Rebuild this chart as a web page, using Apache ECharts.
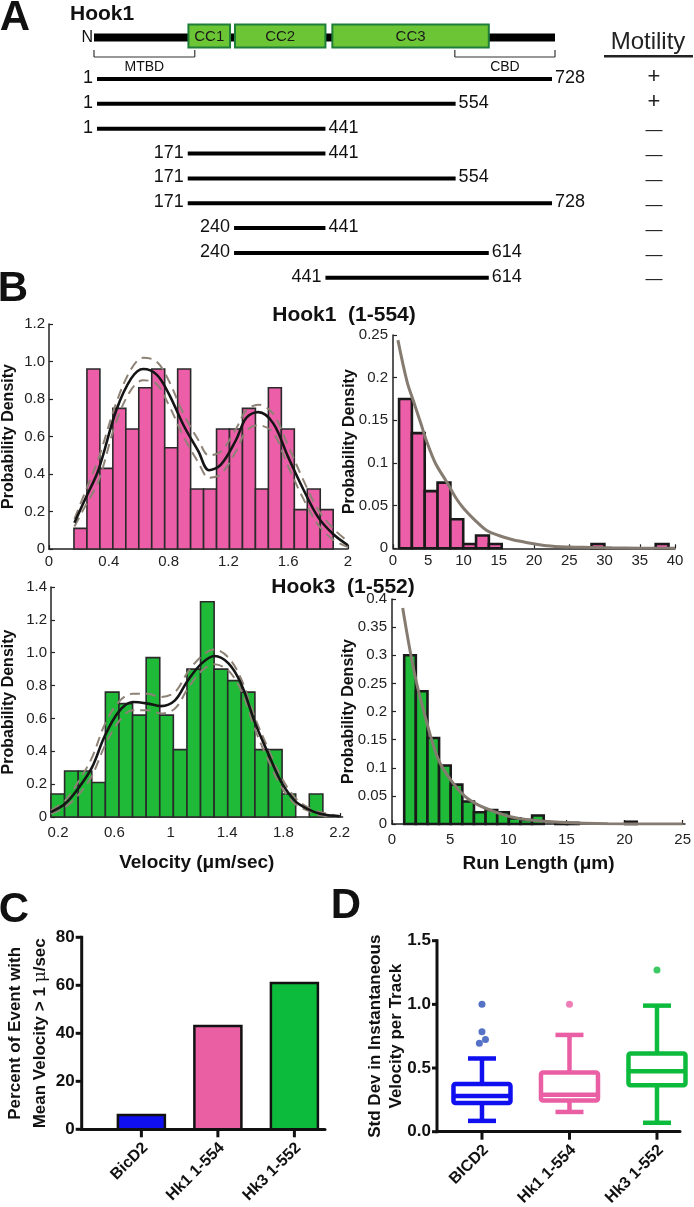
<!DOCTYPE html>
<html><head><meta charset="utf-8">
<script src="https://cdn.jsdelivr.net/npm/echarts@6/dist/echarts.min.js"></script>
<style>html,body{margin:0;padding:0;background:#fff}#c{width:694px;height:1207px}</style>
</head><body><div id="c"></div>
<script>
// ================= DATA =================
// Panel A
const proteinLength = 728;
const constructs = [[1,728],[1,554],[1,441],[171,441],[171,554],[171,728],[240,441],[240,614],[441,614]];
const motility = ['+','+','—','—','—','—','—','—','—'];
const domainNames = ['CC1','CC2','CC3'];
const domainStart = [172,242,447];
const domainEnd = [234,441,614];
const regionNames = ['MTBD','CBD'];
const regionStart = [1,558];
const regionEnd = [177,728];
// the schematic is not to scale: residue anchors and where they are drawn along the bar
const anchorResidue = [1,171,240,441,554,614,728];
const anchorDrawn   = [1,146,220,366,574,627,728];

// Panel B - Hook1 (1-554) velocity
const hk1VelBinStart = 0.167, hk1VelBinWidth = 0.0867;
const hk1VelDensity = [0.11,0.96,0.43,0.75,0.64,0.86,0.96,0.54,0.96,0.32,0.32,0.64,0.64,0.75,0.32,0.86,0.64,0.21,0.32,0.21];
const hk1VelFitX  = [0.17,0.25,0.33,0.45,0.55,0.63,0.72,0.80,0.90,1.00,1.07,1.15,1.25,1.32,1.40,1.50,1.60,1.70,1.80,1.90,2.00];
const hk1VelFit   = [0.14,0.28,0.42,0.74,0.91,0.96,0.93,0.83,0.66,0.52,0.42,0.45,0.58,0.70,0.73,0.67,0.49,0.32,0.17,0.08,0.02];
const hk1VelUpper = [0.16,0.32,0.48,0.78,0.96,1.02,1.00,0.90,0.72,0.58,0.50,0.52,0.64,0.74,0.77,0.72,0.55,0.37,0.21,0.11,0.04];
const hk1VelLower = [0.12,0.24,0.36,0.68,0.85,0.90,0.88,0.77,0.60,0.46,0.38,0.40,0.52,0.63,0.66,0.62,0.44,0.27,0.13,0.05,0.01];
// Hook1 run length
const hk1RunBinStart = 0.86, hk1RunBinWidth = 1.82;
const hk1RunDensity = [0.175,0.135,0.067,0.077,0.034,0.005,0.015,0.005,0,0,0,0,0,0,0,0.005,0,0,0,0,0.005];
const hk1RunFitX = [0.7,2,2.84,4,4.7,6,7.6,9,10,11.5,13.3,15,17,19.5,21.8,25,28,31,35,40];
const hk1RunFit  = [0.244,0.195,0.174,0.145,0.127,0.10,0.078,0.058,0.047,0.034,0.021,0.015,0.010,0.006,0.003,0.0015,0.001,0.0005,0.0002,0.0001];
// Hook3 (1-552) velocity
const hk3VelBinStart = 0.15, hk3VelBinWidth = 0.0965;
const hk3VelDensity = [0.14,0.28,0.28,0.21,0.76,0.69,0.62,0.97,0.62,0.41,0.90,1.31,0.90,0.83,0.76,0.41,0.41,0.14,0,0.14];
const hk3VelFitX  = [0.15,0.25,0.34,0.44,0.53,0.63,0.73,0.84,0.93,1.03,1.12,1.22,1.31,1.41,1.50,1.60,1.69,1.78,1.88,1.97,2.06,2.20];
const hk3VelFit   = [0.03,0.08,0.17,0.30,0.49,0.64,0.70,0.69,0.675,0.71,0.83,0.935,0.98,0.935,0.81,0.57,0.39,0.22,0.10,0.05,0.02,0.004];
const hk3VelUpper = [0.04,0.10,0.21,0.36,0.56,0.70,0.75,0.75,0.73,0.76,0.88,0.98,1.02,0.97,0.84,0.60,0.42,0.25,0.12,0.06,0.03,0.006];
const hk3VelLower = [0.02,0.06,0.13,0.25,0.43,0.58,0.65,0.65,0.63,0.66,0.78,0.89,0.93,0.89,0.77,0.53,0.35,0.19,0.08,0.04,0.01,0.002];
// Hook3 run length
const hk3RunBinStart = 1.05, hk3RunBinWidth = 1.0;
const hk3RunDensity = [0.30,0.236,0.153,0.104,0.070,0.040,0.021,0.025,0.021,0.010,0.007,0.015,0,0.002,0.002,0,0,0,0,0.004];
const hk3RunFitX = [0.92,1.93,2.93,4.0,5.17,6.3,7.4,8.8,10.2,11.9,14.4,18.6,25];
const hk3RunFit  = [0.384,0.268,0.185,0.114,0.075,0.0485,0.034,0.022,0.013,0.007,0.003,0.0005,0];

// Panel C (category positions 1..3)
const cCategories = ['BicD2','Hk1 1-554','Hk3 1-552'];
const cPercent = [6,43,61];
const cTicks = [0,20,40,60,80];
// Panel D  [min, Q1, median, Q3, max]
const dCategories = ['BICD2','Hk1 1-554','Hk3 1-552'];
const dBox = [[0.085,0.225,0.28,0.375,0.575],[0.155,0.245,0.29,0.465,0.76],[0.07,0.365,0.475,0.615,0.99]];
// outliers: [category position (1..3, with small jitter), value]
const dOutliers = [[0.97,0.695],[1.04,0.725],[1,0.785],[1,1.0],[2,1.0],[3,1.27]];
const dOutlierGroup = [0,0,0,0,1,2];
const dTicks = [0,0.5,1,1.5];

// ================= STYLE / LAYOUT =================
const FONT = 'Liberation Sans, Arial, sans-serif';
const groupColors = ['#0f0ff0','#ea5ea4','#0cbb3c'];
const outlierColors = ['#2b4fb8','#ea5ea4','#0cbb3c'];
const pink = '#ec5fa8', green = '#1fbb38';
const cXRange = [0.22, 3.4], dXRange = [0.486, 3.263];

function schem(r){
  for (let i=0;i<anchorResidue.length-1;i++){
    const a=anchorResidue[i], b=anchorResidue[i+1];
    if (r<=b){ const t=(r-a)/(b-a); return anchorDrawn[i]+t*(anchorDrawn[i+1]-anchorDrawn[i]); }
  }
  return anchorDrawn[anchorDrawn.length-1];
}

const chart = echarts.init(document.getElementById('c'), null, {renderer:'canvas'});

const grids = [
  {left:97, top:24.5, width:455, height:23},      // 0 A domains
  {left:97, top:66.6, width:455, height:223.6},   // 1 A constructs
  {left:46.7, top:324, width:301.3, height:225},  // 2 hk1 vel
  {left:393, top:335, width:282, height:213.3},   // 3 hk1 run
  {left:49.3, top:587, width:293.3, height:230},  // 4 hk3 vel
  {left:392, top:599, width:300.4, height:225},   // 5 hk3 run
  {left:81.7, top:937.3, width:243.3, height:192},// 6 C
  {left:437, top:940.7, width:243, height:191}    // 7 D
];

function bX(grid, min, max, opts){
  return Object.assign({
    type:'value', gridIndex:grid, min, max,
    axisLine:{show:true, onZero:false, lineStyle:{color:'#222', width:1.5}},
    axisTick:{show:true, inside:true, length:4, lineStyle:{color:'#222', width:1.2}},
    axisLabel:{fontFamily:FONT, fontSize:15, color:'#222', margin:5},
    splitLine:{show:false}, nameMoveOverlap:false
  }, opts||{});
}
function bY(grid, min, max, interval, opts){
  return Object.assign({
    type:'value', gridIndex:grid, min, max, interval,
    axisLine:{show:true, onZero:false, lineStyle:{color:'#222', width:1.5}},
    axisTick:{show:true, inside:true, length:4, lineStyle:{color:'#222', width:1.2}},
    axisLabel:{fontFamily:FONT, fontSize:15, color:'#222', margin:4},
    splitLine:{show:false},
    name:'Probability Density', nameLocation:'middle', nameGap:32, nameMoveOverlap:false,
    nameTextStyle:{fontFamily:FONT, fontSize:16, fontWeight:'bold', color:'#111'}
  }, opts||{});
}
const fmt1 = v => v===0 ? '0' : v.toFixed(1);

const xAxes = [
  {type:'value', gridIndex:0, min:1, max:proteinLength, show:false},
  {type:'value', gridIndex:1, min:1, max:proteinLength, show:false},
  bX(2, 0, 2, {interval:0.4}),
  bX(3, 0, 40, {interval:5}),
  bX(4, 0.15, 2.22, {
    axisLabel:{fontFamily:FONT, fontSize:15, color:'#222', margin:8, customValues:[0.2,0.6,1,1.4,1.8,2.2]},
    axisTick:{show:true, inside:true, length:4, lineStyle:{color:'#222', width:1.2}, customValues:[0.2,0.6,1,1.4,1.8,2.2]},
    name:'Velocity (μm/sec)', nameLocation:'middle', nameGap:36,
    nameTextStyle:{fontFamily:FONT, fontSize:19, fontWeight:'bold', color:'#111'}
  }),
  bX(5, 0, 25.2, {
    axisLabel:{fontFamily:FONT, fontSize:15, color:'#222', margin:8, customValues:[0,5,10,15,20,25]},
    axisTick:{show:true, inside:true, length:4, lineStyle:{color:'#222', width:1.2}, customValues:[0,5,10,15,20,25]},
    name:'Run Length (μm)', nameLocation:'middle', nameGap:30,
    nameTextStyle:{fontFamily:FONT, fontSize:19, fontWeight:'bold', color:'#111'}
  }),
  {type:'value', gridIndex:6, min:cXRange[0], max:cXRange[1],
    axisLine:{show:true, onZero:false, lineStyle:{color:'#111', width:3}},
    axisTick:{show:false}, axisLabel:{show:false}, splitLine:{show:false}},
  {type:'value', gridIndex:7, min:dXRange[0], max:dXRange[1],
    axisLine:{show:true, onZero:false, lineStyle:{color:'#111', width:3}},
    axisTick:{show:false}, axisLabel:{show:false}, splitLine:{show:false}}
];

const yAxes = [
  {type:'value', gridIndex:0, min:0, max:1, show:false},
  {type:'category', gridIndex:1, inverse:true, position:'right',
    data: constructs.map(c=>c[0]+'-'+c[1]),
    axisLine:{show:false}, axisTick:{show:false}, splitLine:{show:false},
    axisLabel:{show:true, margin:102, align:'center',
      formatter:(v,i)=> motility[i]==='+' ? '{p|+}' : '{m|—}',
      rich:{p:{fontFamily:FONT, fontSize:22, color:'#222', padding:[0,0,4,0]},
            m:{fontFamily:FONT, fontSize:17, color:'#222', padding:[4,0,0,0]}}}},
  bY(2, 0, 1.2, 0.2, {axisLabel:{fontFamily:FONT, fontSize:15, color:'#222', margin:4, formatter:fmt1}}),
  bY(3, 0, 0.25, 0.05, {nameGap:35, axisLabel:{fontFamily:FONT, fontSize:15, color:'#222', margin:5}}),
  bY(4, 0, 1.4, 0.2, {nameGap:34, axisLabel:{fontFamily:FONT, fontSize:15, color:'#222', margin:4, formatter:fmt1}}),
  bY(5, 0, 0.4, 0.05, {nameGap:35, axisLabel:{fontFamily:FONT, fontSize:15, color:'#222', margin:5}}),
  {type:'value', gridIndex:6, min:0, max:80, interval:20,
    axisLine:{show:false}, axisTick:{show:false},
    axisLabel:{fontFamily:FONT, fontSize:17, fontWeight:'bold', color:'#111', margin:7},
    splitLine:{show:false},
    name:'{a|Percent of Event with}\n{a|Mean Velocity > 1 }{b|μ}{a|/sec}', nameLocation:'middle', nameGap:29, nameMoveOverlap:false,
    nameTextStyle:{rich:{a:{fontFamily:FONT, fontSize:17, fontWeight:'bold', color:'#111', lineHeight:25},
                         b:{fontFamily:'DejaVu Serif', fontSize:17, color:'#111', lineHeight:25}}}},
  {type:'value', gridIndex:7, min:0, max:1.5, interval:0.5,
    axisLine:{show:false}, axisTick:{show:false},
    axisLabel:{fontFamily:FONT, fontSize:17, fontWeight:'bold', color:'#111', margin:6, formatter:v=>v.toFixed(1)},
    splitLine:{show:false},
    name:'Std Dev in Instantaneous\nVelocity per Track', nameLocation:'middle', nameGap:30, nameMoveOverlap:false,
    nameTextStyle:{fontFamily:FONT, fontSize:17, fontWeight:'bold', color:'#111', lineHeight:21}}
];

// ---------- series builders ----------
function histSeries(grid, start, width, dens, fill, stroke, lw){
  const data = dens.map((h,i)=>[start+i*width, start+(i+1)*width, h]);
  return {type:'custom', xAxisIndex:grid, yAxisIndex:grid, encode:{x:[0,1], y:2}, data, z:2,
    renderItem:(p, api)=>{
      const h = api.value(2); if (!h) return null;
      const a = api.coord([api.value(0), 0]), b = api.coord([api.value(1), h]);
      return {type:'rect', shape:{x:a[0], y:b[1], width:b[0]-a[0], height:a[1]-b[1]},
        style:{fill, stroke, lineWidth:lw}};
    }};
}
function curve(grid, xs, ys, color, width, dash){
  return {type:'line', xAxisIndex:grid, yAxisIndex:grid, data:xs.map((x,i)=>[x, ys[i]]),
    smooth:0.35, showSymbol:false, symbol:'none', z:5, silent:true,
    lineStyle:{color, width, type:dash||'solid', cap:'butt'}};
}
// category tick + rotated label drawn under an x position (panels C and D)
function catTickAndLabel(cx, y0, text){
  return [
    {type:'line', shape:{x1:cx, y1:y0, x2:cx, y2:y0+8}, style:{stroke:'#111', lineWidth:3}},
    {type:'text', x:cx+4, y:y0+16, rotation:Math.PI/4,
      style:{text, fontFamily:FONT, fontSize:16, fontWeight:'bold', fill:'#111', align:'right', verticalAlign:'middle'}}
  ];
}
// value axis line with outward ticks on the left edge (panels C and D)
function leftAxis(api, xMin, ticks, tickLen){
  const yTop = api.coord([xMin, ticks[ticks.length-1]]), yBot = api.coord([xMin, ticks[0]]);
  const x = yTop[0];
  const els = [{type:'line', shape:{x1:x, y1:yTop[1]-1.5, x2:x, y2:yBot[1]+1.5}, style:{stroke:'#111', lineWidth:3}}];
  ticks.forEach(t=>{
    const y = api.coord([xMin, t])[1];
    els.push({type:'line', shape:{x1:x-tickLen, y1:y, x2:x, y2:y}, style:{stroke:'#111', lineWidth:3}});
  });
  return els;
}

const series = [
  // Panel A backbone
  {type:'custom', xAxisIndex:0, yAxisIndex:0, data:[[1, proteinLength]], encode:{x:[0,1]}, z:3,
    renderItem:(p, api)=>{
      const y = api.coord([1, 0.5])[1] + 1.5;
      const x1 = api.coord([schem(api.value(0)), 0.5])[0], x2 = api.coord([schem(api.value(1)), 0.5])[0];
      return {type:'group', children:[
        {type:'line', shape:{x1:x1-3, y1:y, x2:x2+3, y2:y}, style:{stroke:'#000', lineWidth:8}},
        {type:'text', x:x1-4, y:y, style:{text:'N', fontFamily:FONT, fontSize:16, fill:'#111', align:'right', verticalAlign:'middle'}}
      ]};
    }},
  // Panel A coiled-coil domains
  {type:'custom', xAxisIndex:0, yAxisIndex:0, data:domainStart.map((s,i)=>[s, domainEnd[i], i]), encode:{x:[0,1]}, z:4,
    renderItem:(p, api)=>{
      const a = api.coord([schem(api.value(0)), 1]), b = api.coord([schem(api.value(1)), 0]);
      return {type:'group', children:[
        {type:'rect', shape:{x:a[0], y:a[1], width:b[0]-a[0], height:b[1]-a[1]}, style:{fill:'#6cc534', stroke:'#1f7d3a', lineWidth:2}},
        {type:'text', x:(a[0]+b[0])/2, y:(a[1]+b[1])/2+1, style:{text:domainNames[api.value(2)], fontFamily:FONT, fontSize:15, fill:'#1a1a1a', align:'center', verticalAlign:'middle'}}
      ]};
    }},
  // Panel A region brackets
  {type:'custom', xAxisIndex:0, yAxisIndex:0, data:regionStart.map((s,i)=>[s, regionEnd[i], i]), encode:{x:[0,1]}, z:3,
    renderItem:(p, api)=>{
      const y0 = api.coord([1, 0])[1];
      const x1 = api.coord([schem(api.value(0)), 0])[0]-3, x2 = api.coord([schem(api.value(1)), 0])[0]+3;
      const yt = y0 + 2.5, yb = y0 + 9.5;
      const st = {stroke:'#333', lineWidth:1.2};
      return {type:'group', children:[
        {type:'line', shape:{x1:x1, y1:yt, x2:x1, y2:yb}, style:st},
        {type:'line', shape:{x1:x2, y1:yt, x2:x2, y2:yb}, style:st},
        {type:'line', shape:{x1:x1, y1:yb, x2:x2, y2:yb}, style:st},
        {type:'text', x:(x1+x2)/2, y:yb+10, style:{text:regionNames[api.value(2)], fontFamily:FONT, fontSize:14, fill:'#111', align:'center', verticalAlign:'middle'}}
      ]};
    }},
  // Panel A constructs
  {type:'custom', xAxisIndex:1, yAxisIndex:1, data:constructs.map((c,i)=>[c[0], c[1], i]), encode:{x:[0,1], y:2}, z:3,
    renderItem:(p, api)=>{
      const s = api.value(0), e = api.value(1), r = api.value(2);
      const a = api.coord([schem(s), r]), b = api.coord([schem(e), r]);
      return {type:'group', children:[
        {type:'line', shape:{x1:a[0], y1:a[1], x2:b[0], y2:b[1]}, style:{stroke:'#000', lineWidth:4}},
        {type:'text', x:a[0]-4, y:a[1]-1, style:{text:String(s), fontFamily:FONT, fontSize:18, fill:'#111', align:'right', verticalAlign:'middle'}},
        {type:'text', x:b[0]+3, y:b[1]-1, style:{text:String(e), fontFamily:FONT, fontSize:18, fill:'#111', align:'left', verticalAlign:'middle'}}
      ]};
    }},
  // Panel B histograms
  histSeries(2, hk1VelBinStart, hk1VelBinWidth, hk1VelDensity, pink, '#2a2a2a', 1.6),
  curve(2, hk1VelFitX, hk1VelUpper, '#8d8275', 2, [10,6]),
  curve(2, hk1VelFitX, hk1VelLower, '#8d8275', 2, [10,6]),
  curve(2, hk1VelFitX, hk1VelFit, '#151515', 2.6),
  histSeries(3, hk1RunBinStart, hk1RunBinWidth, hk1RunDensity, pink, '#1a1a1a', 2.6),
  curve(3, hk1RunFitX, hk1RunFit, '#857b70', 3),
  histSeries(4, hk3VelBinStart, hk3VelBinWidth, hk3VelDensity, green, '#2a2a2a', 1.6),
  curve(4, hk3VelFitX, hk3VelUpper, '#8d8275', 2, [10,6]),
  curve(4, hk3VelFitX, hk3VelLower, '#8d8275', 2, [10,6]),
  curve(4, hk3VelFitX, hk3VelFit, '#151515', 2.6),
  histSeries(5, hk3RunBinStart, hk3RunBinWidth, hk3RunDensity, green, '#1a1a1a', 2.6),
  curve(5, hk3RunFitX, hk3RunFit, '#857b70', 3),
  // Panel C bars (+ category tick and label, y axis line)
  {type:'custom', xAxisIndex:6, yAxisIndex:6, data:cPercent.map((v,i)=>[i+1, v]), encode:{x:0, y:1}, z:3,
    renderItem:(p, api)=>{
      const pos = api.value(0);
      const a = api.coord([pos, 0]), b = api.coord([pos, api.value(1)]);
      const w = 47;
      let children = [
        {type:'rect', shape:{x:a[0]-w/2, y:b[1], width:w, height:a[1]-b[1]},
          style:{fill:groupColors[pos-1], stroke:'#111', lineWidth:2.5}}
      ].concat(catTickAndLabel(a[0], a[1], cCategories[pos-1]));
      if (p.dataIndex === 0) children = children.concat(leftAxis(api, cXRange[0], cTicks, 6));
      return {type:'group', children};
    }},
  // Panel D boxes (+ category tick and label, y axis line)
  {type:'custom', xAxisIndex:7, yAxisIndex:7, data:dBox.map((b,i)=>[i+1].concat(b)), encode:{x:0, y:[1,2,3,4,5]}, z:3,
    renderItem:(p, api)=>{
      const pos = api.value(0), col = groupColors[pos-1];
      const base = api.coord([pos, 0]);
      const cx = base[0];
      const ys = [1,2,3,4,5].map(k=>api.coord([pos, api.value(k)])[1]);
      const bw = 57, cw = 28, lw = 4.5;
      const st = {stroke:col, lineWidth:lw, fill:'none'};
      let children = [
        {type:'line', shape:{x1:cx, y1:ys[0], x2:cx, y2:ys[1]}, style:st},
        {type:'line', shape:{x1:cx, y1:ys[3], x2:cx, y2:ys[4]}, style:st},
        {type:'line', shape:{x1:cx-cw/2, y1:ys[0], x2:cx+cw/2, y2:ys[0]}, style:st},
        {type:'line', shape:{x1:cx-cw/2, y1:ys[4], x2:cx+cw/2, y2:ys[4]}, style:st},
        {type:'rect', shape:{x:cx-bw/2, y:ys[3], width:bw, height:ys[1]-ys[3], r:2}, style:{stroke:col, lineWidth:lw, fill:'#fff'}},
        {type:'line', shape:{x1:cx-bw/2, y1:ys[2], x2:cx+bw/2, y2:ys[2]}, style:st}
      ].concat(catTickAndLabel(cx, base[1], dCategories[pos-1]));
      if (p.dataIndex === 0) children = children.concat(leftAxis(api, dXRange[0], dTicks, 5));
      return {type:'group', children};
    }},
  {type:'scatter', xAxisIndex:7, yAxisIndex:7, symbolSize:7, z:4,
    data:dOutliers.map((d,k)=>({value:d, itemStyle:{color:outlierColors[dOutlierGroup[k]]}}))}
];

const T = (text, x, y, size, extra) => ({type:'text', x, y, style:Object.assign({text, fontFamily:FONT, fontSize:size, fontWeight:'bold', fill:'#111', align:'center', verticalAlign:'middle'}, extra||{})});

chart.setOption({
  animation:false,
  backgroundColor:'#fff',
  grid:grids, xAxis:xAxes, yAxis:yAxes, series,
  graphic:[
    T('A', 15, 18, 42),
    T('Hook1', 70, 14, 21, {align:'left'}),
    T('Motility', 648, 42, 24, {fontWeight:'normal', fill:'#222'}),
    {type:'rect', shape:{x:604, y:55, width:89, height:2.5}, style:{fill:'#222'}},
    T('B', 13, 289, 42),
    T('Hook1  (1-554)', 344, 315, 21),
    T('Hook3  (1-552)', 343, 587, 21),
    T('C', 14, 910, 42),
    T('D', 346, 906, 42)
  ]
});
</script></body></html>
